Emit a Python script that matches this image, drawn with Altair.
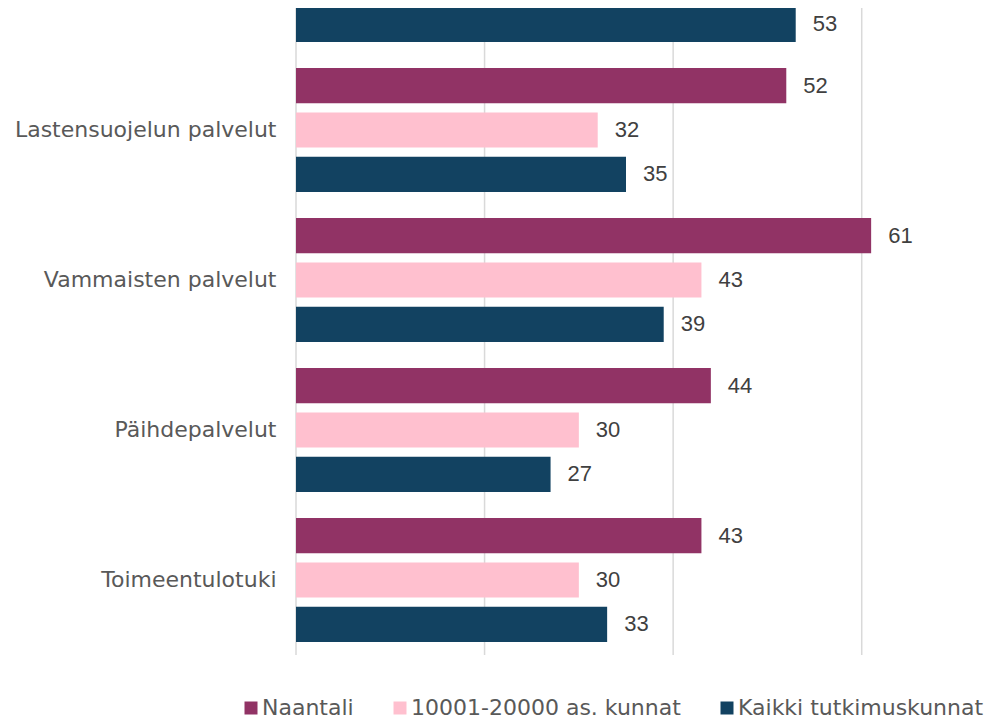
import altair as alt
import pandas as pd

categories = ["Ikääntyneiden palvelut", "Lastensuojelun palvelut", "Vammaisten palvelut",
              "Päihdepalvelut", "Toimeentulotuki"]
series = ["Naantali", "10001-20000 as. kunnat", "Kaikki tutkimuskunnat"]
naantali = [None, 52, 61, 44, 43]
kunnat_10001 = [None, 32, 43, 30, 30]
kaikki = [53, 35, 39, 27, 33]
colors = ["#913365", "#FFC0CF", "#124261"]
x_ticks = [0, 20, 40, 60]

rows = []
for i, c in enumerate(categories):
    for s, vals in zip(series, [naantali, kunnat_10001, kaikki]):
        if vals[i] is not None:
            rows.append({"kategoria": c, "sarja": s, "arvo": vals[i]})
df = pd.DataFrame(rows)
grid_df = pd.DataFrame({"arvo": x_ticks})

LABEL_FONT = "DejaVu Sans"
W, H = 660, 647

x_scale = alt.Scale(domain=[0, 70], nice=False)
y = alt.Y(
    "kategoria:N", sort=categories,
    scale=alt.Scale(domain=categories, range=[-103, H], paddingInner=0, paddingOuter=0),
    axis=alt.Axis(values=categories[1:], title=None, domain=False, ticks=False,
                  labelPadding=20, labelFont=LABEL_FONT, labelFontSize=22,
                  labelColor="#595959", labelLimit=400, grid=False),
)
yo = alt.YOffset("sarja:N", sort=series,
                 scale=alt.Scale(domain=series, paddingInner=0.21, paddingOuter=0.295))
x = alt.X("arvo:Q", scale=x_scale, axis=None)
color = alt.Color(
    "sarja:N", sort=series,
    scale=alt.Scale(domain=series, range=colors),
    legend=alt.Legend(title=None, orient="none", direction="horizontal",
                      legendX=-56, legendY=689, symbolType="square", symbolSize=169,
                      symbolStrokeWidth=0, labelFont=LABEL_FONT, labelFontSize=22,
                      labelColor="#595959", labelOffset=0, columnPadding=35,
                      labelLimit=500),
)

grid = alt.Chart(grid_df).mark_rule(color="#d9d9d9", strokeWidth=1.5).encode(
    x=alt.X("arvo:Q", scale=x_scale, axis=None),
    y=alt.value(0), y2=alt.value(H),
)
bars = alt.Chart(df).mark_bar(clip=True).encode(x=x, y=y, yOffset=yo, color=color)
text = alt.Chart(df).mark_text(
    clip=True, align="left", baseline="middle", dx=17,
    font="Liberation Sans", fontSize=22, color="#404040"
).encode(x="arvo:Q", y=y, yOffset=yo, text="arvo:Q")

chart = (grid + bars + text).properties(
    width=W, height=H,
    autosize=alt.AutoSizeParams(type="none"),
    padding={"left": 288, "top": 0, "right": 28, "bottom": 66},
).configure_view(stroke=None)

chart.save("out.html", embed_options={"renderer": "svg", "actions": False})
